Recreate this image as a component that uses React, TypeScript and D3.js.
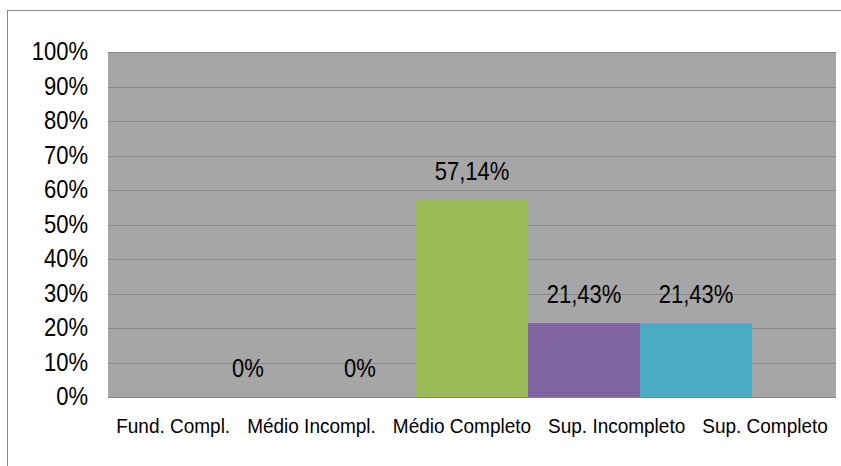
import React, { useLayoutEffect, useRef, useState } from "react";
import * as d3 from "d3";

const categories = ["Fund. Compl.", "Médio Incompl.", "Médio Completo", "Sup. Incompleto", "Sup. Completo"];
const values = [0, 0, 57.14, 21.43, 21.43];
const colors = ["#4F81BD", "#C0504D", "#9BBB59", "#8064A2", "#4BACC6"];
const yTicks = [0, 10, 20, 30, 40, 50, 60, 70, 80, 90, 100];

const W = 841;
const H = 466;
const plot = { left: 108, right: 836, top: 52, bottom: 397 };
const FONT = "'Liberation Sans', Arial, sans-serif";

const fmtLabel = (v: number) => (v === 0 ? "0%" : v.toFixed(2).replace(".", ",") + "%");

export default function App() {
  const legendRefs = useRef<(SVGTextElement | null)[]>([]);
  const [legendX, setLegendX] = useState<number[] | null>(null);

  const y = d3.scaleLinear().domain([0, 100]).range([plot.bottom, plot.top]);
  const x0 = d3.scaleBand<string>().domain(["all"]).range([plot.left, plot.right]).paddingInner(0).paddingOuter(0.15);
  const x1 = d3.scaleBand<string>().domain(categories).range([0, x0.bandwidth()]).padding(0);
  const gx = x0("all") as number;

  useLayoutEffect(() => {
    const widths = legendRefs.current.map((el) => (el ? el.getComputedTextLength() : 0));
    const gap = 17;
    const total = d3.sum(widths) + gap * (widths.length - 1);
    let cx = (plot.left + plot.right) / 2 - total / 2;
    const xs: number[] = [];
    widths.forEach((w) => {
      xs.push(cx);
      cx += w + gap;
    });
    setLegendX(xs);
  }, []);

  const SY = 1.13;
  const SL = 1.07;

  return (
    <svg width={W} height={H} style={{ position: "absolute", left: 0, top: 0 }} fontFamily={FONT}>
      <rect x={0} y={0} width={W} height={H} fill="#ffffff" />
      <rect x={7.5} y={10.5} width={W + 20} height={H + 20} fill="none" stroke="#888888" strokeWidth={1} />
      <rect x={plot.left} y={plot.top} width={plot.right - plot.left} height={plot.bottom - plot.top} fill="#A6A6A6" />
      {yTicks.map((t) => (
        <line
          key={"g" + t}
          x1={plot.left}
          x2={plot.right}
          y1={Math.round(y(t)) + 0.5}
          y2={Math.round(y(t)) + 0.5}
          stroke="#878787"
          strokeWidth={1}
        />
      ))}
      {categories.map((c, i) => (
        <rect
          key={"b" + c}
          x={gx + (x1(c) as number)}
          y={y(values[i])}
          width={x1.bandwidth()}
          height={plot.bottom - y(values[i])}
          fill={colors[i]}
        />
      ))}
      <line x1={plot.left} x2={plot.right} y1={plot.bottom + 0.5} y2={plot.bottom + 0.5} stroke="#868686" />
      {yTicks.map((t) => (
        <text
          key={"t" + t}
          transform={`translate(88,${y(t)}) scale(1,${SY})`}
          textAnchor="end"
          dominantBaseline="central"
          fontSize={22}
          fill="#000"
        >
          {t + "%"}
        </text>
      ))}
      {categories.map((c, i) => (
        <text
          key={"l" + c}
          transform={`translate(${gx + (x1(c) as number) + x1.bandwidth() / 2},${y(values[i]) - 20}) scale(1,${SY})`}
          textAnchor="middle"
          fontSize={22}
          fill="#000"
        >
          {fmtLabel(values[i])}
        </text>
      ))}
      {categories.map((c, i) => (
        <text
          key={"lg" + c}
          ref={(el) => {
            legendRefs.current[i] = el;
          }}
          transform={`translate(${legendX ? legendX[i] : 0},433) scale(1,${SL})`}
          fontSize={19}
          fill="#000"
          visibility={legendX ? "visible" : "hidden"}
        >
          {c}
        </text>
      ))}
    </svg>
  );
}
